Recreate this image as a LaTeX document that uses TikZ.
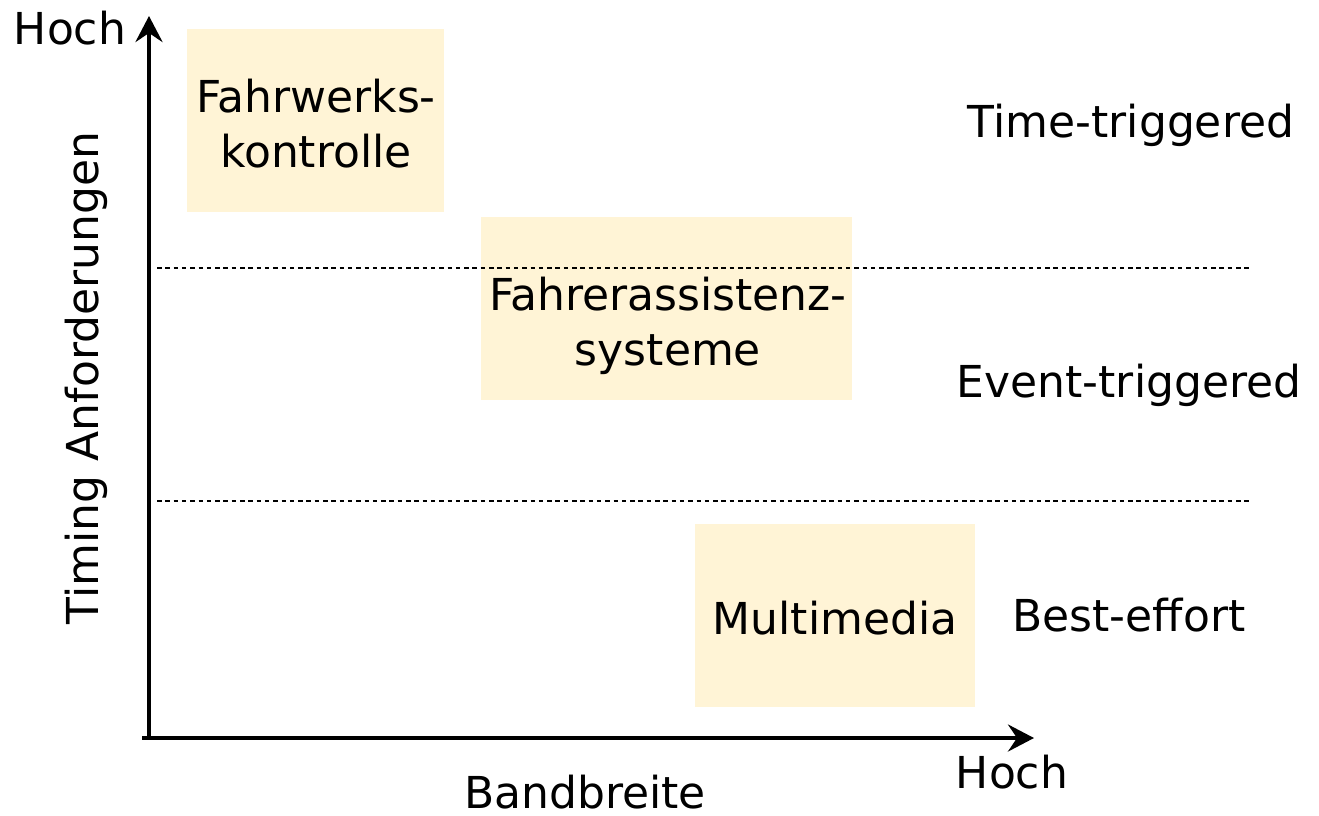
\documentclass[tikz,border=0pt]{standalone}
\usepackage{fontspec}
\setmainfont{DejaVu Sans}
\usetikzlibrary{arrows.meta}
\definecolor{boxfill}{RGB}{255,244,214}
\begin{document}
\begin{tikzpicture}[x=1pt,y=-1pt,
  every node/.style={font=\fontsize{44}{55}\selectfont, inner sep=0pt},
  area/.style={fill=boxfill, draw=none, minimum height=183pt},
  caption/.style={align=center},
  axis/.style={line width=4pt, -{Stealth[length=26pt,width=27pt,inset=9pt]}},
  level/.style={line width=1.4pt, dash pattern=on 4.5pt off 3.8pt},
]
\useasboundingbox (0,0) rectangle (1319,815);
% regions
\node[area, minimum width=257pt] (fw) at (315.5,120.5) {};
\node[area, minimum width=371pt] (fa) at (666.5,308.5) {};
\node[area, minimum width=280pt] (mm) at (835,615.5) {};
\node[caption] (fwt) at (316,124) {Fahrwerks-\\kontrolle};
\node[caption] (fat) at (668,326) {Fahrerassistenz-\\systeme};
\node[caption] (mmt) at (835,618) {Multimedia};
% level separators
\coordinate (l1a) at (157,268); \coordinate (l1b) at (1252,268);
\coordinate (l2a) at (157,501); \coordinate (l2b) at (1252,501);
\draw[level] (l1a) -- (l1b);
\draw[level] (l2a) -- (l2b);
% axes
\coordinate (o) at (149,738);
\coordinate (ytip) at (149,16);
\coordinate (xstart) at (142,738);
\coordinate (xtip) at (1034,738);
\draw[axis] (o) -- (ytip);
\draw[axis] (xstart) -- (xtip);
% axis labels
\node (yhi) at (70,28) {Hoch};
\node[rotate=90] (ylab) at (86,378) {Timing Anforderungen};
\node (xlab) at (585,792) {Bandbreite};
\node (xhi) at (1012,772) {Hoch};
% traffic classes
\node (tt) at (1131,125) {Time-triggered};
\node (et) at (1129,385) {Event-triggered};
\node (be) at (1129,615) {Best-effort};
\end{tikzpicture}
\end{document}
